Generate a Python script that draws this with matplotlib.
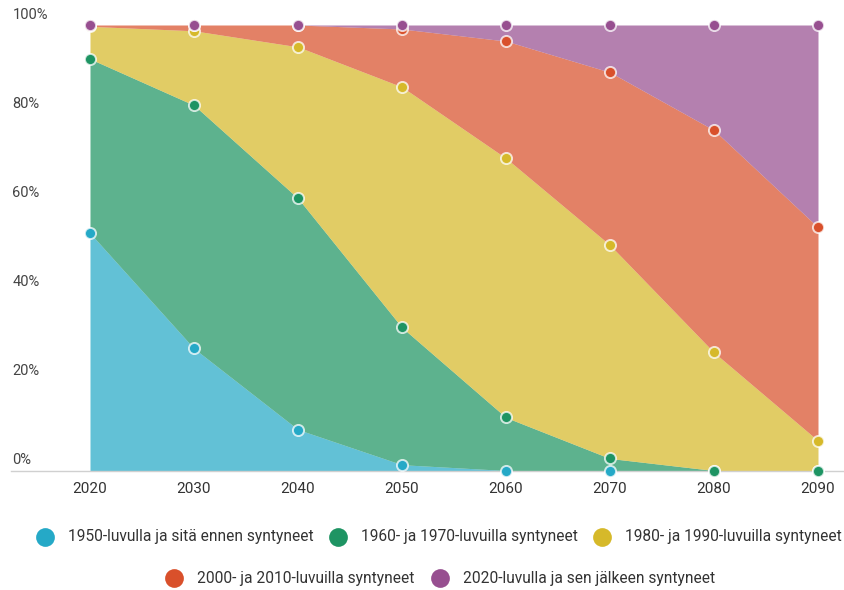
import numpy as np
import matplotlib
matplotlib.use("Agg")
import matplotlib.pyplot as plt
from matplotlib.lines import Line2D

plt.rcParams['font.family'] = ['Roboto', 'DejaVu Sans']

# vuodet ja osuudet (%) syntymäkohorteittain
vuodet = [2020, 2030, 2040, 2050, 2060, 2070, 2080, 2090]
s1950 = [53.3, 27.4, 9.2, 1.3, 0.0, 0.0, 0.0, 0.0]
s1960_70 = [39.1, 54.6, 51.9, 30.8, 11.9, 2.7, 0.0, 0.0]
s1980_90 = [7.3, 16.7, 34.0, 54.0, 58.2, 47.9, 26.5, 6.7]
s2000_10 = [0.3, 1.3, 4.9, 13.0, 26.3, 38.8, 49.9, 47.9]
s2020 = [0.0, 0.0, 0.0, 0.9, 3.6, 10.6, 23.6, 45.4]

nimet = ["1950-luvulla ja sitä ennen syntyneet",
         "1960- ja 1970-luvuilla syntyneet",
         "1980- ja 1990-luvuilla syntyneet",
         "2000- ja 2010-luvuilla syntyneet",
         "2020-luvulla ja sen jälkeen syntyneet"]
varit = ["#25a9c7", "#1e9463", "#d6b92a", "#d9502b", "#974f90"]

fig = plt.figure(figsize=(8.44, 5.90), dpi=100)
ax = fig.add_axes([11 / 844, 1 - 470.5 / 590, 833 / 844, 445.5 / 590])
x0 = 2020 - 79 / 10.4
ax.set_xlim(x0, x0 + 833 / 10.4)
ax.set_ylim(0, 100)

sarjat = [s1950, s1960_70, s1980_90, s2000_10, s2020]
kum = np.cumsum(np.array(sarjat), axis=0)

# pinotut alueet
for k in range(len(sarjat)):
    ala = kum[k - 1] if k > 0 else np.zeros(len(vuodet))
    ax.fill_between(vuodet, ala, kum[k], color=varit[k], alpha=0.72,
                    lw=0, zorder=2)

# pisteet
for k in range(len(sarjat)):
    ax.plot(vuodet, kum[k], ls='none', marker='o', ms=8, mfc=varit[k],
            mec=(1, 1, 1, 0.75), mew=1.4, zorder=5 + k, clip_on=False)

for s in ['top', 'right', 'left']:
    ax.spines[s].set_visible(False)
ax.spines['bottom'].set_color('#d0d0d0')
ax.spines['bottom'].set_linewidth(1)

ax.set_xticks(vuodet)
ax.set_xticklabels([str(v) for v in vuodet], fontsize=11, color='#333333')
ax.tick_params(axis='x', length=0, pad=8)
ax.set_yticks([])

for v in [0, 20, 40, 60, 80, 100]:
    ax.annotate(f"{v}%", xy=(0, v), xycoords=('axes fraction', 'data'),
                xytext=(1, 2.5), textcoords='offset points',
                ha='left', va='bottom', fontsize=10.5, color='#444444')

# selite kahdella rivillä
selite = [(45, 537, 0), (338, 537, 1), (602, 537, 2), (174, 578, 3), (440, 578, 4)]
for px, py, k in selite:
    fig.add_artist(Line2D([px / 844], [1 - py / 590], marker='o', ms=13.5,
                          mfc=varit[k], mec='none', ls='none',
                          transform=fig.transFigure))
    fig.text((px + 23) / 844, 1 - py / 590, nimet[k], fontsize=11.2,
             color='#333333', ha='left', va='center')

fig.savefig("out.png", dpi=100)
